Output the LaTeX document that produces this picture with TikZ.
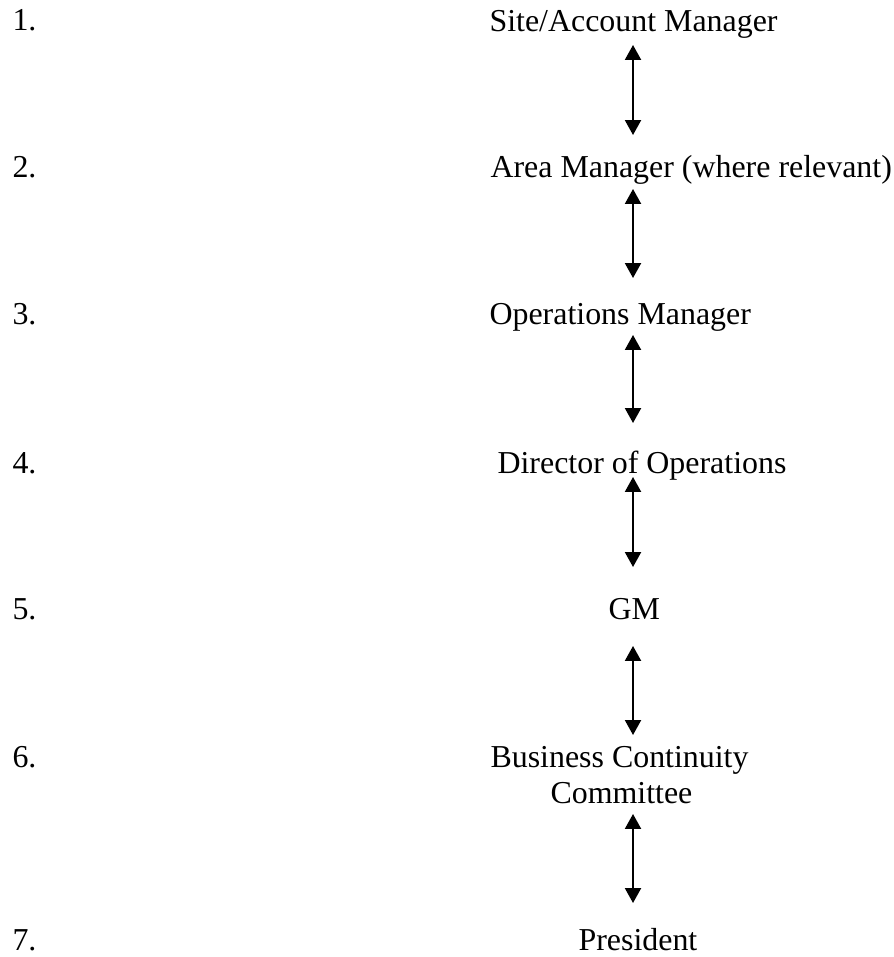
\documentclass[tikz,border=0pt]{standalone}
\usepackage{fontspec}
\setmainfont{Liberation Serif}
\usetikzlibrary{arrows.meta}
\begin{document}
\begin{tikzpicture}[x=0.376pt,y=-0.376pt,
  lbl/.style={inner sep=0pt,anchor=base west,font=\fontsize{12}{14}\selectfont},
  link/.style={{Triangle[width=6pt,length=5.6pt]}-{Triangle[width=6pt,length=5.6pt]},line width=0.75pt}]
\useasboundingbox (0,0) rectangle (893,957);
% numbers
\node[lbl] (n1) at (12,31) {1.};
\node[lbl] (n2) at (12,178) {2.};
\node[lbl] (n3) at (12,325) {3.};
\node[lbl] (n4) at (12,473) {4.};
\node[lbl] (n5) at (12,619) {5.};
\node[lbl] (n6) at (12,767) {6.};
\node[lbl] (n7) at (12,950) {7.};
% labels
\node[lbl] (l1) at (489,32) {Site/Account Manager};
\node[lbl] (l2) at (490,178) {Area Manager (where relevant)};
\node[lbl] (l3) at (489,325) {Operations Manager};
\node[lbl] (l4) at (497,473) {Director of Operations};
\node[lbl] (l5) at (608,619) {GM};
\node[lbl] (l6a) at (490,767) {Business Continuity};
\node[lbl] (l6b) at (550,803) {Committee};
\node[lbl] (l7) at (578,950) {President};
% arrow ends
\coordinate (a1t) at (633,45);  \coordinate (a1b) at (633,135);
\coordinate (a2t) at (633,189); \coordinate (a2b) at (633,278);
\coordinate (a3t) at (633,335); \coordinate (a3b) at (633,423);
\coordinate (a4t) at (633,477); \coordinate (a4b) at (633,567);
\coordinate (a5t) at (633,646); \coordinate (a5b) at (633,735);
\coordinate (a6t) at (633,814); \coordinate (a6b) at (633,903);
\draw[link] (a1t) -- (a1b);
\draw[link] (a2t) -- (a2b);
\draw[link] (a3t) -- (a3b);
\draw[link] (a4t) -- (a4b);
\draw[link] (a5t) -- (a5b);
\draw[link] (a6t) -- (a6b);
\end{tikzpicture}
\end{document}
